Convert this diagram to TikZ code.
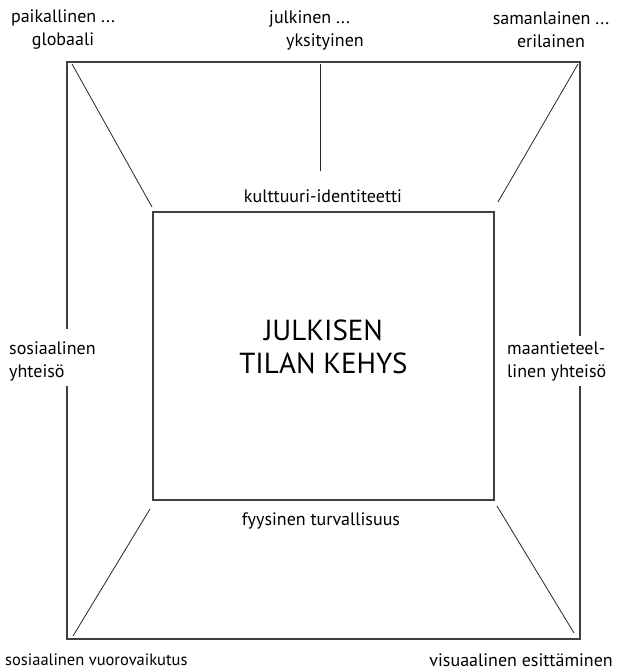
\documentclass[tikz,border=0pt]{standalone}
\usepackage{fontspec}
\setmainfont{PT Sans}
\begin{document}
\begin{tikzpicture}[x=1pt,y=-1pt,
  lbl/.style={font=\fontsize{18}{23}\selectfont, inner sep=0pt, align=center},
  big/.style={font=\fontsize{29}{33}\selectfont, inner sep=0pt, align=center},
  frame/.style={draw=black!75, line width=1.3pt},
  ray/.style={draw=black!85, line width=0.8pt}]
\useasboundingbox (0,0) rectangle (618,672);
% outer frame corners and side gaps
\coordinate (O1) at (67,62);
\coordinate (O2) at (580,62);
\coordinate (O3) at (580,639);
\coordinate (O4) at (67,639);
\coordinate (L1) at (67,329);
\coordinate (L2) at (67,386);
\coordinate (R1) at (580,336);
\coordinate (R2) at (580,386);
\draw[frame] (L1) -- (O1) -- (O2) -- (R1);
\draw[frame] (L2) -- (O4) -- (O3) -- (R2);
% inner box
\node[frame, minimum width=341pt, minimum height=288pt, inner sep=0pt] (box) at (323.5,356) {};
\node[big] (title) at (323.5,347) {JULKISEN\\TILAN KEHYS};
% ray end points
\coordinate (a1) at (72,64);   \coordinate (a2) at (152,207);
\coordinate (b1) at (578,64);  \coordinate (b2) at (498,202);
\coordinate (c1) at (150,509); \coordinate (c2) at (73,636);
\coordinate (d1) at (497,506); \coordinate (d2) at (574,633);
\coordinate (e1) at (320,64);  \coordinate (e2) at (320,171);
\draw[ray] (a1) -- (a2);
\draw[ray] (b1) -- (b2);
\draw[ray] (c1) -- (c2);
\draw[ray] (d1) -- (d2);
\draw[ray] (e1) -- (e2);
% labels
\node[lbl] (tl) at (63,30) {paikallinen ...\\globaali};
\node[lbl, align=left, anchor=west] (tm) at (269,30) {julkinen ...\\\hspace*{17pt}yksityinen};
\node[lbl] (tr) at (551,30) {samanlainen ...\\erilainen};
\node[lbl] (top) at (323,196) {kulttuuri-identiteetti};
\node[lbl] (bot) at (321,521) {fyysinen turvallisuus};
\node[lbl, align=left, anchor=west] (lft) at (9,361) {sosiaalinen\\yhteisö};
\node[lbl, align=left, anchor=west] (rgt) at (507,361) {maantieteel-\\linen yhteisö};
\node[lbl, anchor=west, font=\fontsize{16.5}{23}\selectfont] (bl) at (5,660) {sosiaalinen vuorovaikutus};
\node[lbl, anchor=east] (br) at (613,660) {visuaalinen esittäminen};
\end{tikzpicture}
\end{document}
